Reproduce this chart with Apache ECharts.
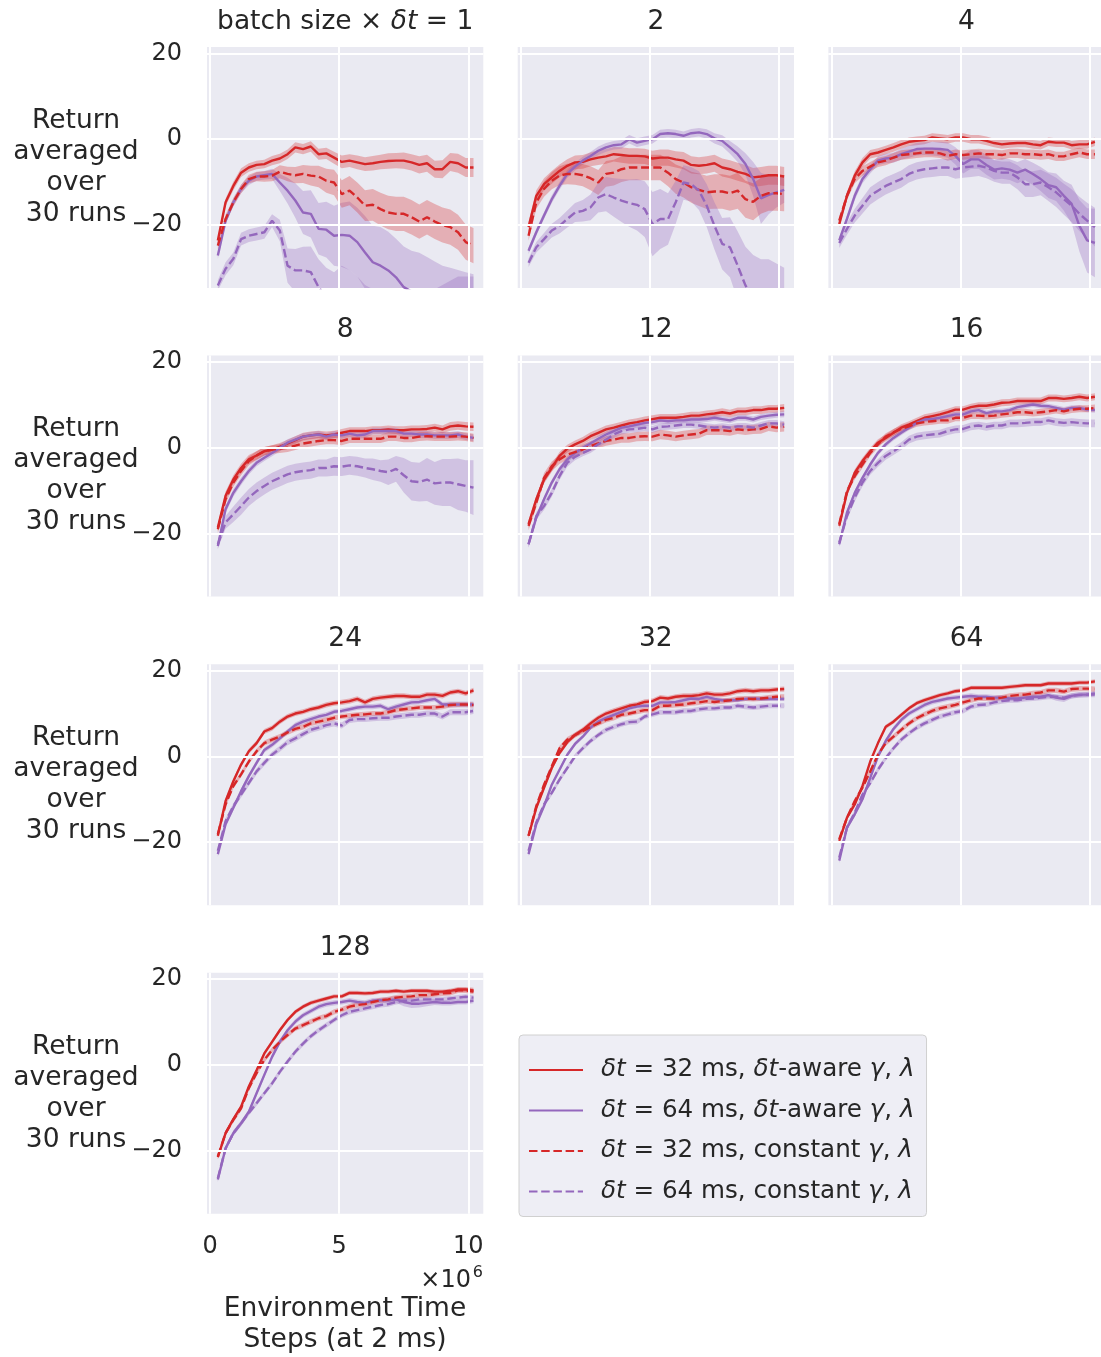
<!DOCTYPE html>
<html><head><meta charset="utf-8">
<script src="https://cdn.jsdelivr.net/npm/echarts@6/dist/echarts.min.js"></script>
<style>html,body{margin:0;padding:0;background:#fff}#c{width:1101px;height:1357px}</style>
</head><body><div id="c"></div>
<script>
// ---------- DATA ----------
const xSteps = [0.3,0.6,0.9,1.2,1.5,1.8,2.1,2.4,2.7,3.0,3.3,3.6,3.9,4.2,4.5,4.8,5.1,5.4,5.7,6.0,6.3,6.6,6.9,7.2,7.5,7.8,8.1,8.4,8.7,9.0,9.3,9.6,9.9,10.2];
const batchSizes = ['1','2','4','8','12','16','24','32','64','128'];
const seriesNames = ['δt = 32 ms, δt-aware γ, λ','δt = 64 ms, δt-aware γ, λ','δt = 32 ms, constant γ, λ','δt = 64 ms, constant γ, λ'];
const yTicks = [-20, 0, 20];
const xTicks = [0, 5, 10];

// batch 1
const b1_r32a = [-23.6,-14.7,-10.9,-7.8,-6.6,-6.0,-5.8,-5.0,-4.5,-3.5,-1.9,-2.3,-1.7,-3.5,-3.3,-4.3,-5.3,-5.0,-5.4,-5.8,-5.6,-5.3,-5.1,-5.0,-5.0,-5.4,-6.0,-5.6,-7.0,-7.0,-5.3,-5.6,-6.6,-6.6];
const b1_r32a_sd = [0.8,0.9,1.0,1.0,1.0,1.0,1.0,1.1,1.1,1.1,1.2,1.2,1.2,1.3,1.3,1.4,1.5,1.5,1.6,1.6,1.7,1.7,1.8,1.8,1.9,1.9,2.0,2.0,2.0,2.1,2.1,2.2,2.2,2.2];
const b1_p64a = [-27.1,-19.0,-14.7,-11.6,-9.7,-8.7,-8.4,-8.1,-10.1,-12.0,-14.3,-17.1,-17.4,-20.9,-21.1,-22.5,-22.3,-22.5,-24.0,-26.4,-28.7,-29.5,-30.6,-32.2,-34.5,-35.5,-36.5,-37.5,-38.5,-39.5,-40.0,-40.5,-41.0,-41.5];
const b1_p64a_sd = [0.8,0.8,0.9,1.0,1.0,1.0,1.0,1.2,2.0,3.0,4.0,5.0,5.5,6.0,6.5,7.0,7.5,8.0,8.0,8.5,8.5,9.0,9.0,9.0,9.5,9.5,10,10,10,10,10,10,10,10];
const b1_r32c = [-24.8,-18.6,-14.7,-11.6,-9.3,-8.7,-8.7,-8.5,-7.6,-8.1,-8.4,-8.1,-8.5,-8.7,-9.7,-10.1,-12.8,-12.0,-13.6,-15.5,-15.3,-16.3,-17.1,-17.4,-17.4,-18.2,-19.2,-18.2,-19.2,-20.0,-20.5,-21.7,-24.0,-24.8];
const b1_r32c_sd = [0.9,1.0,1.0,1.0,1.0,1.1,1.2,1.3,1.5,1.7,1.9,2.1,2.3,2.5,2.8,3.0,3.2,3.4,3.5,3.6,3.7,3.8,3.9,4.0,4.0,4.0,4.0,4.0,4.1,4.1,4.1,4.1,4.1,4.1];
const b1_p64c = [-34.1,-30.2,-27.9,-23.3,-22.5,-22.1,-21.7,-19.0,-21.3,-29.5,-30.6,-30.6,-31.0,-34.5,-37.0,-38.0,-37.0,-38.0,-40.0,-42.0,-43.0,-44.0,-45.0,-45.0,-45.0,-45.0,-45.0,-44.0,-43.0,-42.0,-41.0,-40.0,-40.0,-40.0];
const b1_p64c_sd = [1.2,1.5,1.5,1.5,1.5,1.5,1.5,1.5,2.5,4.0,5.0,5.5,6.0,6.5,7.0,7.0,7.5,7.5,8,8,8,8,8,8,8,8,8,8,8,8,8,8,8,8];

// batch 2
const b2_r32a = [-20.5,-13.2,-10.5,-8.9,-7.4,-6.2,-5.4,-5.3,-4.7,-4.3,-4.0,-3.5,-3.7,-3.9,-3.9,-4.0,-4.5,-4.3,-4.3,-4.7,-5.0,-6.0,-6.2,-6.0,-5.6,-6.6,-7.0,-7.6,-8.1,-8.9,-8.7,-8.4,-8.4,-8.7];
const b2_r32a_sd = [1.2,1.3,1.4,1.5,1.5,1.5,1.6,1.6,1.6,1.7,1.7,1.7,1.8,1.8,1.8,1.8,1.8,1.9,1.9,1.9,2.0,2.0,2.0,2.0,2.0,2.1,2.1,2.1,2.1,2.2,2.2,2.2,2.2,2.2];
const b2_p64a = [-26.0,-21.7,-17.8,-14.0,-10.9,-8.1,-6.4,-5.0,-3.9,-2.7,-1.9,-1.4,-1.2,0.0,-0.8,-0.4,0.0,1.2,1.4,1.2,0.8,1.4,1.6,1.2,0.2,-0.4,-1.9,-3.5,-5.8,-9.3,-13.8,-13.0,-12.4,-11.8];
const b2_p64a_sd = [0.8,0.8,0.8,0.9,0.9,0.9,0.9,0.9,0.9,1.0,1.0,1.0,1.0,1.0,1.0,1.0,1.0,1.0,1.0,1.0,1.0,1.0,1.0,1.1,1.2,1.3,1.5,1.8,2.5,4.0,6.0,4.5,3.5,3.0];
const b2_r32c = [-22.5,-14.7,-11.6,-9.7,-8.5,-8.1,-8.1,-8.4,-9.1,-10.1,-8.1,-7.8,-7.0,-6.6,-6.6,-6.6,-6.6,-6.6,-7.8,-9.3,-10.1,-11.2,-11.8,-12.4,-12.2,-12.2,-12.6,-12.0,-14.0,-14.6,-13.2,-12.6,-12.6,-12.8];
const b2_r32c_sd = [1.2,1.5,1.8,2.0,2.2,2.4,2.5,2.6,2.8,2.9,3.0,3.0,3.0,3.0,3.0,3.0,3.0,3.0,3.2,3.4,3.5,3.6,3.8,3.9,4.0,4.0,4.1,4.2,4.3,4.3,4.2,4.1,4.1,4.0];
const b2_p64c = [-28.8,-25.2,-23.3,-21.3,-20.2,-18.6,-17.1,-16.7,-15.9,-13.6,-12.8,-13.6,-14.3,-14.9,-15.3,-16.3,-19.8,-18.6,-18.6,-14.7,-10.1,-10.5,-12.0,-15.5,-20.2,-24.4,-25.2,-29.5,-34.1,-37.0,-39.0,-40.0,-41.0,-42.0];
const b2_p64c_sd = [1.0,1.2,1.4,1.6,1.8,2.0,2.2,2.5,3.0,3.5,4.0,4.5,5.0,5.5,6.0,6.5,7.5,7.0,6.0,5.0,4.0,4.0,4.5,5.0,5.5,6.0,7.0,8.0,9.0,10,11,12,12,12];

// batch 4
const b4_r32a = [-19.8,-13.2,-8.5,-5.4,-3.5,-3.1,-2.5,-1.9,-1.2,-0.6,-0.4,-0.2,0.4,0.2,0.0,0.4,0.4,0.0,0.0,-0.4,-0.9,-1.2,-1.0,-0.9,-0.9,-1.2,-1.4,-0.6,-0.8,-0.8,-1.4,-1.2,-1.2,-0.6];
const b4_r32a_sd = [0.8,0.9,1.0,1.0,1.0,1.0,1.0,1.0,1.0,1.0,1.0,1.0,1.0,1.0,1.0,1.0,1.0,1.0,1.0,1.0,1.0,1.0,1.0,1.0,1.0,1.0,1.0,1.0,1.0,1.0,1.0,1.0,1.0,1.0];
const b4_p64a = [-23.6,-18.6,-13.2,-9.3,-7.0,-5.0,-4.5,-4.3,-3.5,-2.9,-2.3,-2.2,-2.2,-2.3,-2.5,-3.9,-5.8,-4.7,-4.7,-6.0,-7.1,-6.8,-7.1,-7.8,-7.1,-8.1,-9.3,-10.7,-11.2,-13.2,-15.1,-20.2,-23.6,-24.2];
const b4_p64a_sd = [0.8,0.9,1.0,1.0,1.0,1.0,1.1,1.2,1.3,1.4,1.5,1.5,1.6,1.7,1.8,2.0,2.2,2.2,2.2,2.3,2.3,2.4,2.4,2.5,2.5,2.6,2.8,3.0,3.2,3.5,4.5,6.0,7.5,8.0];
const b4_r32c = [-19.0,-13.2,-9.3,-7.4,-6.4,-5.4,-5.0,-4.3,-3.7,-3.5,-3.3,-3.1,-3.1,-3.3,-3.9,-3.5,-3.7,-3.5,-3.3,-3.5,-3.5,-3.7,-3.3,-3.3,-3.5,-3.5,-3.7,-3.5,-4.0,-4.0,-3.5,-3.1,-3.5,-3.5];
const b4_r32c_sd = [0.9,1.0,1.0,1.1,1.1,1.1,1.1,1.1,1.1,1.1,1.1,1.1,1.1,1.1,1.1,1.1,1.1,1.1,1.1,1.1,1.1,1.1,1.1,1.1,1.1,1.1,1.1,1.1,1.1,1.1,1.1,1.1,1.1,1.1];
const b4_p64c = [-24.2,-20.9,-17.8,-15.5,-13.2,-12.0,-10.9,-10.1,-9.3,-8.1,-7.4,-7.0,-6.8,-6.6,-6.6,-7.0,-6.6,-6.4,-6.2,-6.6,-7.4,-7.8,-7.8,-8.9,-10.5,-10.5,-10.1,-11.2,-12.4,-14.0,-15.5,-17.4,-19.0,-20.5];
const b4_p64c_sd = [1.2,1.4,1.6,1.8,2.0,2.0,2.0,2.0,2.0,2.0,2.0,2.0,2.0,2.0,2.0,2.2,2.4,2.4,2.4,2.5,2.5,2.6,2.6,2.8,3.0,3.0,3.0,3.2,3.4,3.6,3.8,4.0,4.2,4.5];

// batch 8
const b8_r32a = [-18.6,-11.2,-7.4,-4.7,-2.7,-1.8,-0.8,-0.4,0.2,1.0,1.8,2.6,2.9,3.1,2.9,3.1,3.5,3.9,3.9,3.9,4.1,4.1,4.3,4.1,4.1,4.3,4.3,4.4,4.7,4.3,5.0,5.2,5.0,4.9];
const b8_r32a_sd = [0.9,1.0,1.0,1.0,1.0,1.0,1.0,1.0,0.9,0.9,0.9,0.9,0.9,0.9,0.9,0.9,0.9,0.9,0.9,0.9,0.9,0.9,0.9,0.9,0.9,0.9,0.9,0.9,0.9,0.9,1.0,1.0,1.0,1.0];
const b8_p64a = [-22.9,-14.3,-10.5,-7.8,-5.4,-3.5,-2.3,-1.2,0.0,1.2,1.9,2.6,2.9,3.1,2.6,3.1,2.9,3.3,2.9,3.1,3.9,3.9,3.9,3.9,3.3,3.3,3.1,3.1,2.9,2.9,2.9,3.1,2.6,2.3];
const b8_p64a_sd = [0.8,0.9,0.9,0.9,0.8,0.8,0.8,0.8,0.8,0.8,0.8,0.8,0.8,0.8,0.8,0.8,0.8,0.8,0.8,0.8,0.8,0.8,0.8,0.8,0.8,0.8,0.8,0.8,0.8,0.8,0.8,0.8,0.8,0.8];
const b8_r32c = [-19.0,-12.0,-8.1,-5.4,-3.1,-1.8,-0.8,-0.4,-0.2,0.0,0.5,1.0,1.3,1.6,1.8,1.8,1.6,2.1,2.1,2.1,2.1,2.1,2.6,2.6,2.3,2.3,2.6,2.7,2.6,2.6,2.6,2.7,2.6,2.3];
const b8_r32c_sd = [0.9,1.0,1.0,1.0,1.0,1.0,1.0,1.0,1.0,1.0,1.0,1.0,1.0,1.0,1.0,1.0,1.0,1.0,1.0,1.0,1.0,1.0,1.0,1.0,1.0,1.0,1.0,1.0,1.0,1.0,1.0,1.0,1.0,1.0];
const b8_p64c = [-22.5,-17.4,-15.5,-13.6,-11.6,-10.1,-8.9,-7.8,-7.0,-6.2,-5.7,-5.4,-5.2,-4.7,-4.7,-4.3,-4.4,-4.1,-4.3,-4.7,-5.0,-5.4,-5.7,-4.9,-6.4,-7.8,-8.0,-7.4,-8.3,-8.1,-8.1,-8.5,-8.9,-9.3];
const b8_p64c_sd = [1.0,1.5,1.8,2.0,2.0,2.0,2.0,2.0,2.0,2.0,2.0,2.0,2.0,2.0,2.0,2.2,2.2,2.2,2.2,2.2,2.5,2.5,3.0,3.0,4.0,4.5,4.5,5.0,5.0,5.5,5.5,6.0,6.0,6.4];

// batch 12
const b12_r32a = [-17.8,-12.0,-7.4,-4.7,-1.9,-0.2,0.8,1.6,2.7,3.5,4.3,4.7,5.2,5.7,6.0,6.4,6.7,7.0,7.0,7.0,7.2,7.5,7.5,7.8,8.0,8.3,8.0,8.5,8.5,8.8,8.8,9.1,9.1,9.3];
const b12_r32a_sd = [0.9,0.9,0.9,0.9,0.9,0.9,0.9,0.9,0.9,0.9,0.9,0.9,0.9,0.9,0.9,0.9,0.9,0.9,0.9,0.9,0.9,0.9,0.9,0.9,0.9,0.9,0.9,0.9,0.9,0.9,0.9,0.9,0.9,0.9];
const b12_p64a = [-22.5,-16.3,-12.0,-8.1,-5.0,-2.7,-1.2,0.0,1.0,2.1,3.1,3.9,4.7,5.0,5.4,5.8,6.0,6.4,6.2,6.4,6.4,6.6,6.6,6.7,7.0,6.7,6.4,7.0,7.0,6.6,7.2,7.5,7.7,7.8];
const b12_p64a_sd = [0.7,0.7,0.7,0.7,0.7,0.7,0.7,0.7,0.7,0.7,0.7,0.7,0.7,0.7,0.7,0.7,0.7,0.7,0.7,0.7,0.7,0.7,0.7,0.7,0.7,0.7,0.7,0.7,0.7,0.7,0.7,0.7,0.7,0.7];
const b12_r32c = [-18.2,-12.8,-7.0,-4.3,-2.7,-1.6,-1.0,-0.4,0.4,1.0,1.6,1.9,2.3,2.3,2.6,2.7,2.6,3.1,2.9,2.6,2.9,3.1,3.3,4.1,4.1,4.1,3.9,4.3,4.1,4.3,4.4,5.0,4.7,4.9];
const b12_r32c_sd = [1.0,1.1,1.1,1.1,1.1,1.1,1.1,1.1,1.1,1.1,1.1,1.1,1.1,1.1,1.1,1.1,1.1,1.1,1.1,1.1,1.1,1.1,1.1,1.1,1.1,1.1,1.1,1.1,1.1,1.1,1.1,1.1,1.1,1.1];
const b12_p64c = [-22.5,-15.9,-13.6,-10.5,-6.6,-3.5,-2.1,-1.2,-0.4,0.8,1.9,3.1,3.9,4.3,4.4,4.7,4.3,4.9,5.0,5.2,5.4,5.4,5.2,4.9,4.7,4.9,4.7,5.0,5.0,4.7,5.2,5.7,5.7,5.4];
const b12_p64c_sd = [0.8,0.9,0.9,0.9,0.9,0.9,0.8,0.8,0.8,0.8,0.8,0.8,0.8,0.8,0.8,0.8,0.8,0.8,0.8,0.8,0.8,0.8,0.8,0.8,0.8,0.8,0.8,0.8,0.8,0.8,0.8,0.8,0.8,0.8];

// batch 16
const b16_r32a = [-18.2,-10.5,-5.8,-3.1,-0.8,1.2,2.3,3.5,4.7,5.4,6.2,7.0,7.4,7.8,8.3,8.9,8.9,9.5,9.8,9.8,10.1,10.5,10.6,10.9,10.9,10.9,10.9,11.6,11.6,11.4,11.6,11.9,11.6,11.9];
const b16_r32a_sd = [0.8,0.8,0.8,0.8,0.8,0.8,0.8,0.8,0.8,0.8,0.8,0.8,0.8,0.8,0.8,0.8,0.8,0.8,0.8,0.8,0.8,0.8,0.8,0.8,0.8,0.8,0.8,0.8,0.8,0.8,0.8,0.8,0.8,0.8];
const b16_p64a = [-22.5,-15.1,-10.5,-7.0,-3.9,-1.2,0.8,2.3,3.5,4.7,5.8,6.6,6.7,7.0,7.4,7.8,7.8,8.5,8.8,8.1,8.5,8.5,8.8,9.5,9.8,10.1,9.8,9.7,9.3,8.9,9.3,9.3,8.9,8.8];
const b16_p64a_sd = [0.6,0.6,0.6,0.6,0.6,0.6,0.6,0.6,0.6,0.6,0.6,0.6,0.6,0.6,0.6,0.6,0.6,0.6,0.6,0.6,0.6,0.6,0.6,0.6,0.6,0.6,0.6,0.6,0.6,0.6,0.6,0.6,0.6,0.6];
const b16_r32c = [-17.8,-10.1,-6.6,-3.9,-1.2,0.8,2.6,3.6,4.4,5.0,5.7,6.0,6.2,6.4,6.4,7.0,7.0,7.5,7.5,7.4,7.5,7.8,8.0,8.3,8.3,8.1,8.3,8.5,8.8,8.5,8.9,9.1,9.1,9.3];
const b16_r32c_sd = [0.8,0.8,0.8,0.8,0.8,0.8,0.8,0.8,0.8,0.8,0.8,0.8,0.8,0.8,0.8,0.8,0.8,0.8,0.8,0.8,0.8,0.8,0.8,0.8,0.8,0.8,0.8,0.8,0.8,0.8,0.8,0.8,0.8,0.8];
const b16_p64c = [-22.1,-15.9,-11.6,-8.1,-5.4,-3.5,-1.9,-0.8,0.4,1.9,2.6,2.9,3.1,3.3,3.9,4.3,4.4,5.0,5.2,4.9,5.2,5.2,5.7,5.7,5.8,6.0,6.0,6.4,6.0,5.8,6.0,5.8,5.7,5.7];
const b16_p64c_sd = [0.9,0.9,0.9,0.9,0.9,0.9,0.9,0.9,0.9,0.9,0.9,0.9,0.9,0.9,0.9,0.9,0.9,0.9,0.9,0.9,0.9,0.9,0.9,0.9,0.9,0.9,0.9,0.9,0.9,0.9,0.9,0.9,0.9,0.9];

// batch 24
const b24_r32a = [-18.5,-10.4,-5.8,-1.9,1.2,3.1,5.8,6.6,8.1,9.3,10.0,10.4,11.0,11.4,12.0,12.4,12.6,12.9,13.4,12.6,13.4,13.7,13.9,14.1,14.1,13.9,13.9,14.4,14.4,14.1,14.9,15.2,14.7,15.4];
const b24_r32a_sd = [0.6,0.6,0.6,0.6,0.6,0.6,0.6,0.6,0.6,0.6,0.6,0.6,0.6,0.6,0.6,0.6,0.6,0.6,0.6,0.6,0.6,0.6,0.6,0.6,0.6,0.6,0.6,0.6,0.6,0.6,0.6,0.6,0.6,0.6];
const b24_p64a = [-22.8,-15.8,-12.0,-8.1,-4.6,-1.5,1.5,2.7,4.2,5.8,7.3,8.1,8.7,9.3,9.7,10.4,10.6,11.0,11.4,11.6,11.6,11.8,11.0,11.6,12.1,12.6,12.7,13.1,13.4,12.1,12.1,12.1,12.1,12.1];
const b24_p64a_sd = [0.6,0.6,0.6,0.6,0.6,0.6,0.6,0.6,0.6,0.6,0.6,0.6,0.6,0.6,0.6,0.6,0.6,0.6,0.6,0.6,0.6,0.6,0.6,0.6,0.6,0.6,0.6,0.6,0.6,0.6,0.7,0.7,0.7,0.7];
const b24_r32c = [-18.1,-11.2,-6.9,-4.2,-1.2,1.2,3.1,3.9,4.6,5.6,6.4,6.9,7.7,8.1,8.5,9.0,9.3,9.5,9.7,9.8,10.0,10.0,10.3,10.8,11.0,11.2,11.4,11.4,11.4,11.6,12.0,12.1,12.1,12.0];
const b24_r32c_sd = [0.6,0.6,0.6,0.6,0.6,0.6,0.6,0.6,0.6,0.6,0.6,0.6,0.6,0.6,0.6,0.6,0.6,0.6,0.6,0.6,0.6,0.6,0.6,0.6,0.6,0.6,0.6,0.6,0.6,0.6,0.6,0.6,0.6,0.6];
const b24_p64c = [-22.0,-15.1,-11.6,-8.9,-6.2,-3.5,-1.5,0.4,1.8,3.3,4.2,5.2,6.2,6.7,7.3,7.7,7.2,8.5,8.7,8.7,8.9,9.0,9.0,9.3,9.5,9.7,9.7,10.0,10.0,9.3,10.3,10.3,10.3,10.6];
const b24_p64c_sd = [0.7,0.7,0.7,0.7,0.7,0.7,0.7,0.7,0.7,0.7,0.7,0.7,0.7,0.7,0.7,0.7,0.7,0.7,0.7,0.7,0.7,0.7,0.7,0.7,0.7,0.7,0.7,0.7,0.7,0.7,0.7,0.7,0.7,0.7];

// batch 32
const b32_r32a = [-18.5,-12.0,-7.3,-2.7,0.8,3.3,5.0,6.2,7.7,9.0,10.0,10.6,11.2,11.8,12.1,12.7,12.9,13.7,13.5,13.9,14.1,14.1,14.3,14.7,14.4,14.4,14.7,15.2,15.4,15.2,15.4,15.4,15.6,15.7];
const b32_r32a_sd = [0.6,0.6,0.6,0.6,0.6,0.6,0.6,0.6,0.6,0.6,0.6,0.6,0.6,0.6,0.6,0.6,0.6,0.6,0.6,0.6,0.6,0.6,0.6,0.6,0.6,0.6,0.6,0.6,0.6,0.6,0.6,0.6,0.6,0.6];
const b32_p64a = [-22.8,-15.8,-11.6,-6.6,-3.1,0.4,2.9,4.6,6.7,8.1,9.0,9.7,10.4,11.2,11.6,11.8,11.8,12.6,12.6,12.7,13.1,13.5,13.4,13.9,13.4,13.1,13.1,13.1,13.4,13.5,13.4,13.4,13.4,13.4];
const b32_p64a_sd = [0.5,0.5,0.5,0.5,0.5,0.5,0.5,0.5,0.5,0.5,0.5,0.5,0.5,0.5,0.5,0.5,0.5,0.5,0.5,0.5,0.5,0.5,0.5,0.5,0.5,0.5,0.5,0.5,0.5,0.5,0.5,0.5,0.5,0.5];
const b32_r32c = [-18.5,-11.6,-6.6,-2.3,1.9,3.9,5.0,5.9,6.9,7.7,8.5,9.0,9.7,10.0,10.4,10.8,10.8,11.8,11.8,12.0,12.1,12.4,12.6,12.9,12.7,12.9,13.1,13.4,13.5,13.4,13.5,13.7,13.9,13.9];
const b32_r32c_sd = [0.6,0.6,0.6,0.6,0.6,0.6,0.6,0.6,0.6,0.6,0.6,0.6,0.6,0.6,0.6,0.6,0.6,0.6,0.6,0.6,0.6,0.6,0.6,0.6,0.6,0.6,0.6,0.6,0.6,0.6,0.6,0.6,0.6,0.6];
const b32_p64c = [-22.0,-15.4,-11.2,-8.5,-5.4,-2.7,0.0,1.9,3.6,5.0,6.2,6.9,7.5,8.0,8.1,9.3,9.8,10.3,10.3,10.3,10.6,10.6,11.0,11.2,11.2,11.4,11.4,11.8,11.6,11.4,11.6,11.8,11.8,11.8];
const b32_p64c_sd = [0.6,0.6,0.6,0.6,0.6,0.6,0.6,0.6,0.6,0.6,0.6,0.6,0.6,0.6,0.6,0.6,0.6,0.6,0.6,0.6,0.6,0.6,0.6,0.6,0.6,0.6,0.6,0.6,0.6,0.6,0.6,0.6,0.6,0.6];

// batch 64
const b64_r32a = [-19.7,-14.3,-11.2,-6.9,-1.2,3.1,6.9,8.1,9.7,11.2,12.4,13.1,13.7,14.3,14.7,15.2,15.4,16.0,16.0,16.0,16.0,16.0,16.2,16.4,16.6,16.6,16.6,17.0,17.0,17.0,17.0,17.2,17.2,17.5];
const b64_r32a_sd = [0.5,0.5,0.5,0.5,0.5,0.5,0.5,0.5,0.5,0.5,0.5,0.5,0.5,0.5,0.5,0.5,0.5,0.5,0.5,0.5,0.5,0.5,0.5,0.5,0.5,0.5,0.5,0.5,0.5,0.5,0.5,0.5,0.5,0.5];
const b64_p64a = [-24.3,-16.6,-13.5,-10.0,-5.0,0.0,3.6,6.4,8.5,10.0,11.0,12.0,12.7,13.1,13.5,13.7,13.9,14.1,13.9,13.9,13.7,13.7,13.5,13.5,13.7,13.9,13.9,14.3,13.7,13.4,14.1,14.4,14.4,14.7];
const b64_p64a_sd = [0.6,0.6,0.6,0.6,0.6,0.6,0.6,0.6,0.6,0.6,0.6,0.6,0.6,0.6,0.6,0.6,0.6,0.6,0.6,0.6,0.6,0.6,0.6,0.6,0.6,0.6,0.6,0.6,0.7,0.7,0.6,0.6,0.6,0.6];
const b64_r32c = [-19.3,-14.3,-10.4,-7.3,-3.5,0.4,3.1,4.6,6.2,7.7,8.9,9.8,10.6,11.2,11.6,12.0,12.6,13.1,13.5,13.5,13.5,13.7,14.1,14.3,14.4,14.7,14.9,15.4,15.4,15.1,15.7,15.8,15.8,15.7];
const b64_r32c_sd = [0.6,0.6,0.6,0.6,0.6,0.6,0.6,0.6,0.6,0.6,0.6,0.6,0.6,0.6,0.6,0.6,0.6,0.6,0.6,0.6,0.6,0.6,0.6,0.6,0.6,0.6,0.6,0.6,0.6,0.6,0.6,0.6,0.6,0.6];
const b64_p64c = [-23.6,-16.6,-13.1,-8.9,-6.2,-3.1,-0.4,1.9,3.9,5.4,6.7,7.7,8.5,9.3,9.8,10.3,10.6,11.6,12.0,12.1,12.6,12.9,13.1,13.1,13.4,13.5,13.7,13.9,13.9,13.7,14.1,14.3,14.4,14.4];
const b64_p64c_sd = [0.6,0.6,0.6,0.6,0.6,0.6,0.6,0.6,0.6,0.6,0.6,0.6,0.6,0.6,0.6,0.6,0.6,0.6,0.6,0.6,0.6,0.6,0.6,0.6,0.6,0.6,0.6,0.6,0.6,0.6,0.6,0.6,0.6,0.6];

// batch 128
const b128_r32a = [-21.5,-15.9,-12.6,-9.7,-5.0,-1.2,2.7,5.4,8.1,10.5,12.4,13.6,14.5,15.0,15.5,16.0,16.0,16.8,16.8,16.7,16.8,17.1,17.1,17.3,17.1,17.3,17.3,17.3,17.1,17.1,17.3,17.6,17.6,17.4];
const b128_r32a_sd = [0.5,0.5,0.5,0.5,0.5,0.5,0.5,0.5,0.5,0.5,0.5,0.5,0.5,0.5,0.5,0.5,0.5,0.5,0.5,0.5,0.5,0.5,0.5,0.5,0.5,0.5,0.5,0.5,0.5,0.5,0.5,0.6,0.6,0.6];
const b128_p64a = [-26.7,-19.4,-15.9,-13.6,-10.9,-6.6,-2.3,1.9,5.4,8.1,10.1,11.6,12.6,13.6,14.2,14.5,14.7,15.0,14.7,14.5,15.0,15.1,15.1,15.3,14.7,14.3,14.3,14.5,14.7,14.5,14.5,14.7,14.7,15.0];
const b128_p64a_sd = [0.6,0.6,0.6,0.6,0.6,0.6,0.6,0.6,0.6,0.6,0.6,0.6,0.6,0.6,0.6,0.6,0.6,0.6,0.6,0.6,0.6,0.6,0.7,0.8,1.0,1.0,0.9,0.8,0.7,0.6,0.6,0.6,0.6,0.6];
const b128_r32c = [-21.3,-15.9,-12.8,-10.1,-5.4,-1.9,1.2,3.5,5.4,7.0,8.5,9.3,10.1,10.9,11.4,12.4,12.9,13.6,14.0,14.2,14.7,15.1,15.3,15.7,15.9,16.0,16.3,16.3,16.5,16.7,16.8,17.4,17.4,17.1];
const b128_r32c_sd = [0.6,0.6,0.6,0.6,0.6,0.6,0.6,0.6,0.6,0.6,0.6,0.6,0.6,0.6,0.6,0.6,0.6,0.6,0.6,0.6,0.6,0.6,0.6,0.6,0.6,0.6,0.6,0.6,0.6,0.6,0.6,0.6,0.6,0.6];
const b128_p64c = [-26.4,-19.4,-15.9,-13.6,-11.2,-8.9,-6.6,-4.3,-1.6,0.8,3.1,5.0,6.7,8.1,9.3,10.5,11.6,12.4,12.8,13.2,13.6,14.0,14.2,14.7,15.0,15.0,15.3,15.3,15.3,15.3,15.5,15.7,15.9,15.7];
const b128_p64c_sd = [0.6,0.6,0.6,0.6,0.6,0.6,0.6,0.6,0.6,0.6,0.6,0.6,0.6,0.6,0.6,0.6,0.6,0.6,0.6,0.6,0.6,0.6,0.6,0.6,0.6,0.6,0.6,0.6,0.6,0.6,0.6,0.6,0.6,0.6];

// ---------- ASSEMBLY ----------
const panelMeans = [
  [b1_r32a,b1_p64a,b1_r32c,b1_p64c],[b2_r32a,b2_p64a,b2_r32c,b2_p64c],[b4_r32a,b4_p64a,b4_r32c,b4_p64c],
  [b8_r32a,b8_p64a,b8_r32c,b8_p64c],[b12_r32a,b12_p64a,b12_r32c,b12_p64c],[b16_r32a,b16_p64a,b16_r32c,b16_p64c],
  [b24_r32a,b24_p64a,b24_r32c,b24_p64c],[b32_r32a,b32_p64a,b32_r32c,b32_p64c],[b64_r32a,b64_p64a,b64_r32c,b64_p64c],
  [b128_r32a,b128_p64a,b128_r32c,b128_p64c]];
const panelSds = [
  [b1_r32a_sd,b1_p64a_sd,b1_r32c_sd,b1_p64c_sd],[b2_r32a_sd,b2_p64a_sd,b2_r32c_sd,b2_p64c_sd],[b4_r32a_sd,b4_p64a_sd,b4_r32c_sd,b4_p64c_sd],
  [b8_r32a_sd,b8_p64a_sd,b8_r32c_sd,b8_p64c_sd],[b12_r32a_sd,b12_p64a_sd,b12_r32c_sd,b12_p64c_sd],[b16_r32a_sd,b16_p64a_sd,b16_r32c_sd,b16_p64c_sd],
  [b24_r32a_sd,b24_p64a_sd,b24_r32c_sd,b24_p64c_sd],[b32_r32a_sd,b32_p64a_sd,b32_r32c_sd,b32_p64c_sd],[b64_r32a_sd,b64_p64a_sd,b64_r32c_sd,b64_p64c_sd],
  [b128_r32a_sd,b128_p64a_sd,b128_r32c_sd,b128_p64c_sd]];

const RED = '#d62728', PUR = '#9467bd';
const colors = [RED, PUR, RED, PUR];
const dashed = [false, false, true, true];
const DASH = [8.5, 3.7];
const FONT = 'DejaVu Sans';
const TXT = '#262626';
const BG = '#EAEAF2';
const TICK_FS = 24, LABEL_FS = 26.5, LEGEND_FS = 24.6;

const colLeft = [207, 517.7, 828.4];
const rowTop = [47, 355.6, 664.2, 972.8];
const PW = 276.3, PH = 241;
const XMIN = -0.12, XMAX = 10.58, YMIN = -34.7, YMAX = 21.5;

const grids = [], xAxes = [], yAxes = [], series = [], elements = [];

const negFmt = v => (v < 0 ? '\u2212' + Math.abs(v) : String(v));

for (let i = 0; i < 10; i++) {
  const col = i % 3, row = Math.floor(i / 3);
  const L = colLeft[col], T = rowTop[row];
  grids.push({left: L, top: T, width: PW, height: PH, show: true, backgroundColor: BG, borderWidth: 0, containLabel: false, outerBoundsMode: 'none'});
  xAxes.push({
    gridIndex: i, type: 'value', min: XMIN, max: XMAX,
    axisLine: {show: false}, axisTick: {show: false}, splitLine: {show: false},
    axisLabel: i === 9 ? {show: true, customValues: xTicks, margin: 21, fontSize: TICK_FS, fontFamily: FONT, color: TXT, showMinLabel: true, showMaxLabel: true} : {show: false}
  });
  yAxes.push({
    gridIndex: i, type: 'value', min: YMIN, max: YMAX,
    axisLine: {show: false}, axisTick: {show: false}, splitLine: {show: false},
    axisLabel: col === 0 ? {show: true, customValues: yTicks, margin: 25, fontSize: TICK_FS, fontFamily: FONT, color: TXT, formatter: negFmt, showMinLabel: true, showMaxLabel: true} : {show: false}
  });
  // white grid lines
  series.push({
    type: 'line', xAxisIndex: i, yAxisIndex: i, z: 1, silent: true, symbol: 'none',
    data: [[xTicks[1], yTicks[1]]], lineStyle: {opacity: 0},
    markLine: {
      silent: true, symbol: ['none', 'none'], animation: false,
      label: {show: false},
      lineStyle: {color: '#ffffff', width: 2, type: 'solid', opacity: 1},
      emphasis: {disabled: true},
      data: xTicks.map(v => ({xAxis: v})).concat(yTicks.map(v => ({yAxis: v})))
    }
  });
  // bands
  for (let s = 0; s < 4; s++) {
    const m = panelMeans[i][s], sd = panelSds[i][s];
    const data = xSteps.map((x, k) => [x, m[k] - sd[k], m[k] + sd[k]]);
    const color = colors[s];
    series.push({
      type: 'custom', xAxisIndex: i, yAxisIndex: i, z: 2, silent: true, clip: true,
      data: data, encode: {x: 0, y: [1, 2]},
      renderItem: (params, api) => {
        if (params.dataIndex !== 0) return null;
        const pts = [];
        for (let k = 0; k < data.length; k++) pts.push(api.coord([data[k][0], data[k][1]]));
        for (let k = data.length - 1; k >= 0; k--) pts.push(api.coord([data[k][0], data[k][2]]));
        const cs = params.coordSys;
        return {
          type: 'group',
          clipPath: {type: 'rect', shape: {x: cs.x, y: cs.y, width: cs.width, height: cs.height}},
          children: [{type: 'polygon', shape: {points: pts}, style: {fill: color, opacity: 0.3}}]
        };
      }
    });
  }
  // mean lines
  for (let s = 0; s < 4; s++) {
    const m = panelMeans[i][s];
    series.push({
      type: 'line', name: seriesNames[s], xAxisIndex: i, yAxisIndex: i, z: 3, silent: true,
      symbol: 'none', showSymbol: false, clip: true,
      itemStyle: {color: colors[s], opacity: 0},
      lineStyle: {color: colors[s], width: 2.4, type: dashed[s] ? DASH : 'solid', cap: 'butt'},
      data: xSteps.map((x, k) => [x, m[k]])
    });
  }
  // panel title
  const cx = L + PW / 2;
  if (i === 0) {
    elements.push({type: 'text', x: cx, y: T - 25, style: {
      text: 'batch size × {i|δt} = ' + batchSizes[i], align: 'center', verticalAlign: 'middle',
      fontSize: LABEL_FS, fontFamily: FONT, fill: TXT,
      rich: {i: {fontSize: LABEL_FS, fontFamily: FONT, fontStyle: 'italic', fill: TXT}}
    }});
  } else {
    elements.push({type: 'text', x: cx, y: T - 25, style: {
      text: batchSizes[i], align: 'center', verticalAlign: 'middle', fontSize: LABEL_FS, fontFamily: FONT, fill: TXT
    }});
  }
  // y label
  if (col === 0) {
    elements.push({type: 'text', x: 76, y: T + PH / 2, style: {
      text: 'Return\naveraged\nover\n30 runs', align: 'center', verticalAlign: 'middle',
      fontSize: LABEL_FS, lineHeight: 31, fontFamily: FONT, fill: TXT
    }});
  }
}

// x axis offset and label (bottom-left panel)
elements.push({type: 'text', x: 471, y: 1281, style: {text: '×10', align: 'right', verticalAlign: 'middle', fontSize: TICK_FS, fontFamily: FONT, fill: TXT}});
elements.push({type: 'text', x: 483, y: 1273, style: {text: '6', align: 'right', verticalAlign: 'middle', fontSize: 16, fontFamily: FONT, fill: TXT}});
elements.push({type: 'text', x: 345, y: 1325, style: {text: 'Environment Time\nSteps (at 2 ms)', align: 'center', verticalAlign: 'middle', fontSize: LABEL_FS, lineHeight: 31, fontFamily: FONT, fill: TXT}});

const legendRich = {};
legendRich[seriesNames[0]] = '{s|}{i|δt} = 32 ms, {i|δt}-aware {i|γ}, {i|λ}';
legendRich[seriesNames[1]] = '{s|}{i|δt} = 64 ms, {i|δt}-aware {i|γ}, {i|λ}';
legendRich[seriesNames[2]] = '{s|}{i|δt} = 32 ms, constant {i|γ}, {i|λ}';
legendRich[seriesNames[3]] = '{s|}{i|δt} = 64 ms, constant {i|γ}, {i|λ}';

const option = {
  animation: false,
  backgroundColor: '#ffffff',
  textStyle: {fontFamily: FONT},
  grid: grids, xAxis: xAxes, yAxis: yAxes, series: series,
  legend: {
    data: seriesNames, orient: 'vertical', left: 519, top: 1035,
    selectedMode: false,
    itemWidth: 54, itemHeight: 14, itemGap: 12.5,
    padding: [21, 12, 11, 9],
    backgroundColor: '#EEEEF5', borderColor: '#d0d0d0', borderWidth: 1, borderRadius: 4,
    itemStyle: {opacity: 0},
    textStyle: {fontSize: LEGEND_FS, fontFamily: FONT, color: TXT, lineHeight: 28,
      rich: {i: {fontSize: LEGEND_FS, fontFamily: FONT, fontStyle: 'italic', color: TXT, lineHeight: 28}, s: {width: 13}}},
    formatter: name => legendRich[name]
  },
  graphic: {elements: elements}
};

const chart = echarts.init(document.getElementById('c'), null, {renderer: 'canvas', width: 1101, height: 1357});
chart.setOption(option);
</script></body></html>
